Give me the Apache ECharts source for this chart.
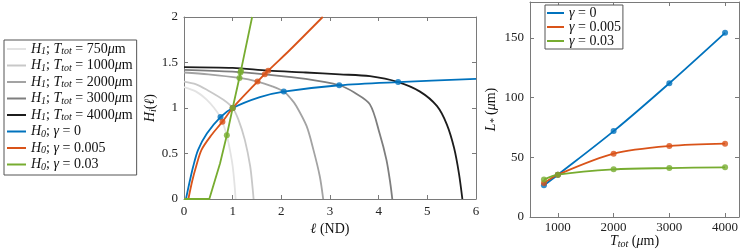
<!DOCTYPE html>
<html><head><meta charset="utf-8">
<script src="https://cdn.jsdelivr.net/npm/echarts@6/dist/echarts.min.js"></script>
<style>html,body{margin:0;padding:0;background:#fff}#c{width:747px;height:250px}</style>
</head><body><div id="c"></div>
<script>
// ---------- middle panel: H1 curves (ell, H) ----------
const h1_750_l  = [0, 0.25, 0.47, 0.62, 0.75, 0.79, 0.88, 0.95, 1.0, 1.04, 1.06];
const h1_750_h  = [1.23, 1.18, 1.09, 1.0, 0.9, 0.85, 0.70, 0.52, 0.36, 0.15, 0];
const h1_1000_l = [0, 0.25, 0.47, 0.81, 1.0, 1.12, 1.25, 1.36, 1.41, 1.43];
const h1_1000_h = [1.29, 1.26, 1.20, 1.09, 1.0, 0.87, 0.65, 0.36, 0.12, 0];
const h1_2000_l = [0, 0.5, 1.14, 1.51, 1.8, 2.05, 2.2, 2.31, 2.52, 2.66, 2.79, 2.86];
const h1_2000_h = [1.39, 1.37, 1.33, 1.29, 1.24, 1.18, 1.10, 1.02, 0.80, 0.54, 0.25, 0];
const h1_3000_l = [0, 1, 1.66, 2.5, 3.19, 3.5, 3.82, 4.02, 4.16, 4.24, 4.28];
const h1_3000_h = [1.42, 1.40, 1.37, 1.32, 1.25, 1.17, 1.04, 0.72, 0.43, 0.17, 0];
const h1_4000_l = [0, 1, 1.73, 2.5, 3.2, 3.82, 4.4, 4.85, 5.2, 5.4, 5.55, 5.65, 5.72];
const h1_4000_h = [1.45, 1.44, 1.41, 1.39, 1.37, 1.35, 1.285, 1.18, 1.02, 0.82, 0.56, 0.28, 0];
// ---------- middle panel: H0 curves ----------
const h0_g0_l   = [0.04, 0.12, 0.19, 0.29, 0.47, 0.75, 1.0, 1.56, 2.05, 3.19, 4.4, 6];
const h0_g0_h   = [0, 0.2, 0.36, 0.54, 0.72, 0.90, 1.0, 1.12, 1.18, 1.25, 1.285, 1.32];
const h0_g005_l = [0.09, 0.17, 0.25, 0.36, 0.56, 0.79, 1.0, 1.51, 1.73, 2.18, 2.85];
const h0_g005_h = [0, 0.2, 0.36, 0.54, 0.70, 0.85, 1.0, 1.29, 1.41, 1.64, 2.0];
const h0_g03_l  = [0, 0.52, 0.74, 0.88, 1.0, 1.17, 1.40];
const h0_g03_h  = [0, 0, 0.39, 0.70, 1.0, 1.41, 2.0];
// intersection markers
const mk_g0_l   = [0.75, 1.0, 2.05, 3.19, 4.40];
const mk_g0_h   = [0.90, 1.0, 1.18, 1.25, 1.285];
const mk_g005_l = [0.79, 1.0, 1.51, 1.66, 1.73];
const mk_g005_h = [0.85, 1.0, 1.29, 1.37, 1.41];
const mk_g03_l  = [0.88, 1.0, 1.14, 1.16, 1.17];
const mk_g03_h  = [0.70, 1.0, 1.33, 1.39, 1.41];
// ---------- right panel ----------
const ttot      = [750, 1000, 2000, 3000, 4000];
const lstar_g0   = [26.5, 35.4, 71.9, 112, 154.2];
const lstar_g005 = [28.4, 35.4, 53, 59.4, 61.4];
const lstar_g03  = [31.3, 35.4, 39.9, 41, 41.6];
// ticks
const midXTicks = [0, 1, 2, 3, 4, 5, 6];
const midYTicks = [0, 0.5, 1, 1.5, 2];
const rXTicks = [1000, 2000, 3000, 4000];
const rYTicks = [0, 50, 100, 150];

const SERIF = "'Liberation Serif', 'DejaVu Serif', serif";
const BLUE = '#0072BD', ORANGE = '#D95319', GREEN = '#77AC30';
const zip = (a, b) => a.map((v, i) => [v, b[i]]);

const FS = 14;
const rich = {
  r: {fontFamily: SERIF, fontSize: FS, color: '#111', lineHeight: 15},
  i: {fontFamily: SERIF, fontSize: FS, fontStyle: 'italic', color: '#111', lineHeight: 15},
  s: {fontFamily: SERIF, fontSize: 10, fontStyle: 'italic', color: '#111', lineHeight: 10, verticalAlign: 'bottom'}
};

const names1 = ['H1; T=750', 'H1; T=1000', 'H1; T=2000', 'H1; T=3000', 'H1; T=4000', 'H0; g=0', 'H0; g=0.005', 'H0; g=0.03'];
const fmt1 = {
  'H1; T=750':  '{i|H}{s|1}{r|; }{i|T}{s|tot}{r| = 750}{i|μ}{r|m}',
  'H1; T=1000': '{i|H}{s|1}{r|; }{i|T}{s|tot}{r| = 1000}{i|μ}{r|m}',
  'H1; T=2000': '{i|H}{s|1}{r|; }{i|T}{s|tot}{r| = 2000}{i|μ}{r|m}',
  'H1; T=3000': '{i|H}{s|1}{r|; }{i|T}{s|tot}{r| = 3000}{i|μ}{r|m}',
  'H1; T=4000': '{i|H}{s|1}{r|; }{i|T}{s|tot}{r| = 4000}{i|μ}{r|m}',
  'H0; g=0':     '{i|H}{s|0}{r|; }{i|γ}{r| = 0}',
  'H0; g=0.005': '{i|H}{s|0}{r|; }{i|γ}{r| = 0.005}',
  'H0; g=0.03':  '{i|H}{s|0}{r|; }{i|γ}{r| = 0.03}'
};
const names2 = ['γ = 0', 'γ = 0.005', 'γ = 0.03'];
const fmt2 = {'γ = 0': '{i|γ}{r| = 0}', 'γ = 0.005': '{i|γ}{r| = 0.005}', 'γ = 0.03': '{i|γ}{r| = 0.03}'};

const AX = '#7a7a7a';
function axis(o) {
  return {
    type: 'value', gridIndex: o.grid, position: o.pos, min: o.min, max: o.max,
    splitLine: {show: false},
    axisLine: {show: true, onZero: false, lineStyle: {color: AX, width: 1}},
    axisTick: {show: true, inside: true, length: 4, lineStyle: {color: AX}, customValues: o.ticks},
    axisLabel: {show: !!o.labels, fontFamily: SERIF, fontSize: 13, color: '#222', margin: o.margin || 6,
                customValues: o.ticks, formatter: v => String(v)},
    name: o.name || '', nameLocation: 'middle', nameGap: o.nameGap || 20, nameRotate: o.nameRotate || 0,
    nameMoveOverlap: false,
    nameTextStyle: {rich: rich}
  };
}

const lineS = (name, l, h, color, xi, yi, smooth) => ({
  type: 'line', name, data: zip(l, h), xAxisIndex: xi, yAxisIndex: yi,
  symbol: 'none', showSymbol: false, smooth: smooth, clip: true,
  lineStyle: {color, width: 1.8}, itemStyle: {color}, emphasis: {disabled: true}, z: 2
});
const dotS = (l, h, color, xi, yi) => ({
  type: 'scatter', name: 'mk' + color + xi, data: zip(l, h), xAxisIndex: xi, yAxisIndex: yi,
  symbol: 'circle', symbolSize: 6, itemStyle: {color}, emphasis: {disabled: true}, z: 3
});

const option = {
  animation: false,
  backgroundColor: '#fff',
  grid: [
    {left: 184, top: 17, width: 292, height: 182, outerBoundsMode: 'none', containLabel: false},
    {left: 530, top: 2, width: 209, height: 215, outerBoundsMode: 'none', containLabel: false}
  ],
  legend: [
    {left: 4, top: 40, orient: 'vertical', padding: [2, 4, 3, 3], itemGap: 2, itemWidth: 19, itemHeight: 2,
     icon: 'rect', borderColor: '#555', borderWidth: 1, backgroundColor: '#fff', data: names1,
     formatter: n => fmt1[n], textStyle: {rich: rich}},
    {left: 545, top: 5, orient: 'vertical', padding: [1, 2, 1, 2], itemGap: 0, itemWidth: 17, itemHeight: 2,
     icon: 'rect', borderColor: '#555', borderWidth: 1, backgroundColor: '#fff', data: names2,
     formatter: n => fmt2[n], textStyle: {rich: rich}}
  ],
  xAxis: [
    axis({grid: 0, pos: 'bottom', min: 0, max: 6, ticks: midXTicks, labels: true, name: '{i|ℓ}{r| (ND)}', nameGap: 23}),
    axis({grid: 0, pos: 'top', min: 0, max: 6, ticks: midXTicks}),
    axis({grid: 1, pos: 'bottom', min: 500, max: 4250, ticks: rXTicks, labels: true, margin: 4, name: '{i|T}{s|tot}{r| (}{i|μ}{r|m)}', nameGap: 17}),
    axis({grid: 1, pos: 'top', min: 500, max: 4250, ticks: rXTicks})
  ],
  yAxis: [
    axis({grid: 0, pos: 'left', min: 0, max: 2, ticks: midYTicks, labels: true, name: '{i|H}{s|i}{r|(}{i|ℓ}{r|)}', nameGap: 26, nameRotate: 90}),
    axis({grid: 0, pos: 'right', min: 0, max: 2, ticks: midYTicks}),
    axis({grid: 1, pos: 'left', min: 0, max: 180, ticks: rYTicks, labels: true, name: '{i|L}{s|*}{r| (}{i|μ}{r|m)}', nameGap: 31, nameRotate: 90}),
    axis({grid: 1, pos: 'right', min: 0, max: 180, ticks: rYTicks})
  ],
  series: [
    lineS('H1; T=750', h1_750_l, h1_750_h, '#e3e3e3', 0, 0, 0.3),
    lineS('H1; T=1000', h1_1000_l, h1_1000_h, '#c8c8c8', 0, 0, 0.3),
    lineS('H1; T=2000', h1_2000_l, h1_2000_h, '#a3a3a3', 0, 0, 0.3),
    lineS('H1; T=3000', h1_3000_l, h1_3000_h, '#7e7e7e', 0, 0, 0.3),
    lineS('H1; T=4000', h1_4000_l, h1_4000_h, '#1c1c1c', 0, 0, 0.3),
    lineS('H0; g=0', h0_g0_l, h0_g0_h, BLUE, 0, 0, 0.3),
    lineS('H0; g=0.005', h0_g005_l, h0_g005_h, ORANGE, 0, 0, 0.3),
    lineS('H0; g=0.03', h0_g03_l, h0_g03_h, GREEN, 0, 0, false),
    dotS(mk_g0_l, mk_g0_h, BLUE, 0, 0),
    dotS(mk_g005_l, mk_g005_h, ORANGE, 0, 0),
    dotS(mk_g03_l, mk_g03_h, GREEN, 0, 0),
    lineS('γ = 0', ttot, lstar_g0, BLUE, 2, 2, 0.3),
    lineS('γ = 0.005', ttot, lstar_g005, ORANGE, 2, 2, 0.3),
    lineS('γ = 0.03', ttot, lstar_g03, GREEN, 2, 2, 0.3),
    dotS(ttot, lstar_g0, BLUE, 2, 2),
    dotS(ttot, lstar_g005, ORANGE, 2, 2),
    dotS(ttot, lstar_g03, GREEN, 2, 2)
  ]
};
const chart = echarts.init(document.getElementById('c'));
chart.setOption(option);
</script></body></html>
